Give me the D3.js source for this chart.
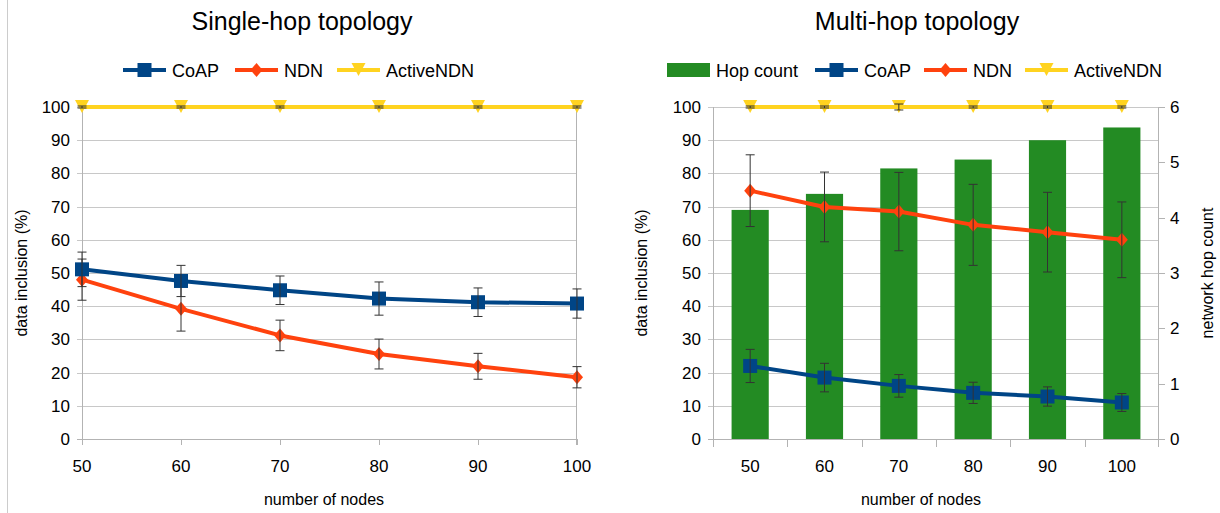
<!DOCTYPE html>
<html><head><meta charset="utf-8">
<script src="https://cdn.jsdelivr.net/npm/d3@7"></script>
<style>body{margin:0;background:#fff}svg{display:block;font-family:"Liberation Sans",Arial,sans-serif}</style>
</head><body><svg id="c" width="1220" height="513"></svg>
<script>
const nodes = [50, 60, 70, 80, 90, 100];
// Single-hop
const s_coap = [51.1, 47.6, 44.8, 42.3, 41.2, 40.8];
const s_coapErr = [5.2, 4.7, 4.3, 5.0, 4.3, 4.4];
const s_ndn = [48.0, 39.2, 31.2, 25.6, 21.9, 18.6];
const s_ndnErr = [6.2, 6.7, 4.6, 4.5, 3.9, 3.2];
const s_active = [100, 100, 100, 100, 100, 100];
const s_activeErr = [0.3, 0.3, 0.3, 0.3, 0.3, 0.3];
// Multi-hop
const m_hop = [4.14, 4.43, 4.89, 5.05, 5.40, 5.63];
const m_coap = [22.0, 18.5, 16.0, 13.9, 12.8, 11.0];
const m_coapErr = [5.0, 4.3, 3.4, 3.2, 2.9, 2.7];
const m_ndn = [74.8, 69.9, 68.5, 64.5, 62.3, 60.0];
const m_ndnErr = [10.8, 10.5, 11.8, 12.2, 12.0, 11.4];
const m_active = [100, 100, 100, 100, 100, 100];
const m_activeErr = [0.3, 0.3, 0.9, 0.3, 0.3, 0.3];
const yTicks = [0,10,20,30,40,50,60,70,80,90,100];
const hopTicks = [0,1,2,3,4,5,6];

const C_COAP = "#004586", C_NDN = "#ff420e", C_ACT = "#ffd320", C_BAR = "#238b23";
const GRID = "#c8c8c8", AX = "#b3b3b3", ERR = "#333";
const svg = d3.select("#c");

svg.append("line").attr("x1",7.5).attr("x2",7.5).attr("y1",0).attr("y2",513).attr("stroke","#ccc");

function marker(g, type, x, y, color) {
  if (type === "square") {
    g.append("rect").attr("x", x-7).attr("y", y-7).attr("width",14).attr("height",14).attr("fill",color);
  } else if (type === "diamond") {
    g.append("path").attr("d", `M${x},${y-7}L${x+6},${y}L${x},${y+7}L${x-6},${y}Z`).attr("fill",color);
  } else {
    g.append("path").attr("d", `M${x-7},${y-7}L${x+7},${y-7}L${x},${y+6}Z`).attr("fill",color);
  }
}

function drawSeries(g, xs, y, vals, errs, color, type) {
  const line = d3.line().x((d,i)=>xs[i]).y(d=>y(d));
  g.append("path").datum(vals).attr("d", line).attr("fill","none").attr("stroke",color).attr("stroke-width",4).attr("stroke-linejoin","round");
  vals.forEach((v,i)=>marker(g,type,xs[i],y(v),color));
  vals.forEach((v,i)=>{
    const x = xs[i], y1 = y(v+errs[i]), y2 = y(v-errs[i]);
    g.append("line").attr("x1",x).attr("x2",x).attr("y1",y1).attr("y2",y2).attr("stroke",ERR).attr("stroke-width",1);
    [y1,y2].forEach(yy=>g.append("line").attr("x1",x-4.5).attr("x2",x+4.5).attr("y1",yy).attr("y2",yy).attr("stroke",ERR).attr("stroke-width",1));
  });
}

function legendLine(g, x, y, color, type, label) {
  g.append("line").attr("x1",x).attr("x2",x+43).attr("y1",y).attr("y2",y).attr("stroke",color).attr("stroke-width",4);
  marker(g, type, x+21.5, y, color);
  g.append("text").attr("x",x+49).attr("y",y+6.5).attr("font-size",18).attr("fill","#000").text(label);
}

const pTop = 107, pBot = 439;

// ---------- Left chart ----------
{
  const g = svg.append("g");
  const x = d3.scaleLinear().domain([50,100]).range([82,577]);
  const y = d3.scaleLinear().domain([0,100]).range([pBot, pTop]);
  yTicks.forEach(t=>{
    g.append("line").attr("x1",77).attr("x2",577).attr("y1",Math.round(y(t))+0.5).attr("y2",Math.round(y(t))+0.5).attr("stroke",t===0?AX:GRID).attr("stroke-width",1);
    g.append("text").attr("x",70).attr("y",y(t)+6).attr("text-anchor","end").attr("font-size",17).text(t);
  });
  g.append("line").attr("x1",82.5).attr("x2",82.5).attr("y1",pTop).attr("y2",pBot+6).attr("stroke",AX);
  g.append("line").attr("x1",576.5).attr("x2",576.5).attr("y1",pTop).attr("y2",pBot+6).attr("stroke",AX);
  nodes.forEach(n=>{
    g.append("line").attr("x1",Math.round(x(n))+0.5).attr("x2",Math.round(x(n))+0.5).attr("y1",pBot).attr("y2",pBot+6).attr("stroke",AX);
    g.append("text").attr("x",x(n)).attr("y",472).attr("text-anchor","middle").attr("font-size",17).text(n);
  });
  const xs = nodes.map(n=>x(n));
  drawSeries(g, xs, y, s_active, s_activeErr, C_ACT, "tri");
  drawSeries(g, xs, y, s_ndn, s_ndnErr, C_NDN, "diamond");
  drawSeries(g, xs, y, s_coap, s_coapErr, C_COAP, "square");
  g.append("text").attr("x",302).attr("y",30).attr("text-anchor","middle").attr("font-size",25).text("Single-hop topology");
  legendLine(g,123,70,C_COAP,"square","CoAP");
  legendLine(g,235,70,C_NDN,"diamond","NDN");
  legendLine(g,337,70,C_ACT,"tri","ActiveNDN");
  g.append("text").attr("transform","translate(27,273) rotate(-90)").attr("text-anchor","middle").attr("font-size",16).text("data inclusion (%)");
  g.append("text").attr("x",324).attr("y",505).attr("text-anchor","middle").attr("font-size",16).text("number of nodes");
}

// ---------- Right chart ----------
{
  const g = svg.append("g");
  const L = 713, R = 1159;
  const x = d3.scaleBand().domain(nodes).range([L,R]).paddingInner(0.5).paddingOuter(0.25);
  const y = d3.scaleLinear().domain([0,100]).range([pBot, pTop]);
  const yr = d3.scaleLinear().domain([0,6]).range([pBot, pTop]);
  yTicks.forEach(t=>{
    g.append("line").attr("x1",L-5).attr("x2",R).attr("y1",Math.round(y(t))+0.5).attr("y2",Math.round(y(t))+0.5).attr("stroke",t===0?AX:GRID);
    g.append("text").attr("x",701).attr("y",y(t)+6).attr("text-anchor","end").attr("font-size",17).text(t);
  });
  hopTicks.forEach(t=>{
    g.append("line").attr("x1",R).attr("x2",R+6).attr("y1",Math.round(yr(t))+0.5).attr("y2",Math.round(yr(t))+0.5).attr("stroke",AX);
    g.append("text").attr("x",1170).attr("y",yr(t)+6).attr("text-anchor","start").attr("font-size",17).text(t);
  });
  nodes.forEach((n,i)=>{
    g.append("rect").attr("x",x(n)).attr("width",x.bandwidth()).attr("y",yr(m_hop[i])).attr("height",pBot-yr(m_hop[i])).attr("fill",C_BAR);
  });
  g.append("line").attr("x1",L+0.5).attr("x2",L+0.5).attr("y1",pTop).attr("y2",pBot+8).attr("stroke",AX);
  g.append("line").attr("x1",R-0.5).attr("x2",R-0.5).attr("y1",pTop).attr("y2",pBot+8).attr("stroke",AX);
  for (let i=1;i<nodes.length;i++) {
    const xx = Math.round(L + i*(R-L)/nodes.length)+0.5;
    g.append("line").attr("x1",xx).attr("x2",xx).attr("y1",pBot).attr("y2",pBot+8).attr("stroke",AX);
  }
  const xs = nodes.map(n=>x(n)+x.bandwidth()/2);
  nodes.forEach((n,i)=>g.append("text").attr("x",xs[i]).attr("y",472).attr("text-anchor","middle").attr("font-size",17).text(n));
  drawSeries(g, xs, y, m_active, m_activeErr, C_ACT, "tri");
  drawSeries(g, xs, y, m_ndn, m_ndnErr, C_NDN, "diamond");
  drawSeries(g, xs, y, m_coap, m_coapErr, C_COAP, "square");
  g.append("text").attr("x",917).attr("y",30).attr("text-anchor","middle").attr("font-size",25).text("Multi-hop topology");
  g.append("rect").attr("x",667).attr("y",63).attr("width",43).attr("height",14).attr("fill",C_BAR);
  g.append("text").attr("x",716).attr("y",76.5).attr("font-size",18).text("Hop count");
  legendLine(g,815,70,C_COAP,"square","CoAP");
  legendLine(g,924,70,C_NDN,"diamond","NDN");
  legendLine(g,1025,70,C_ACT,"tri","ActiveNDN");
  g.append("text").attr("transform","translate(647,273) rotate(-90)").attr("text-anchor","middle").attr("font-size",16).text("data inclusion (%)");
  g.append("text").attr("transform","translate(1213,273) rotate(-90)").attr("text-anchor","middle").attr("font-size",16).text("network hop count");
  g.append("text").attr("x",921).attr("y",505).attr("text-anchor","middle").attr("font-size",16).text("number of nodes");
}
</script></body></html>
